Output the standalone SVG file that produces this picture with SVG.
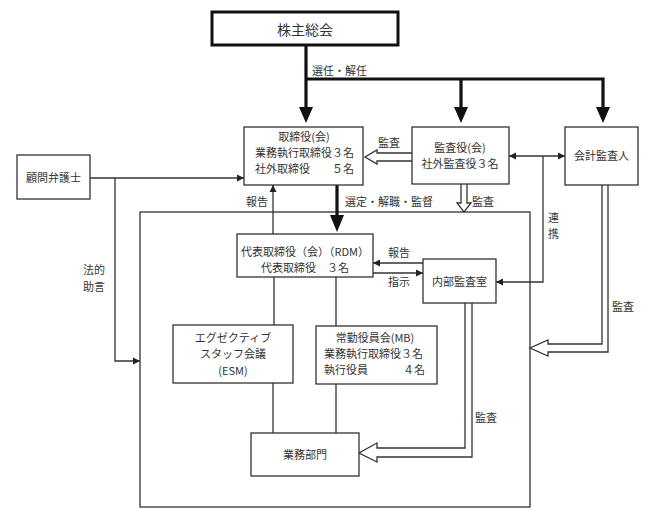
<svg xmlns="http://www.w3.org/2000/svg" width="656" height="522" viewBox="0 0 656 522">
<style>
text{font-family:"Noto Sans CJK JP","Noto Sans CJK SC",sans-serif;font-size:11px;fill:#333;}
.c{text-anchor:middle;}
.e{text-anchor:end;}
.box{fill:#fff;stroke:#333;stroke-width:1.3;}
.thin{fill:none;stroke:#333;stroke-width:1.3;}
.thick{fill:none;stroke:#111;stroke-width:3.2;}
.hollow{fill:#fff;stroke:#333;stroke-width:1.3;}
.head{fill:#111;stroke:none;}
</style>
<defs>
<marker id="ah" markerWidth="8" markerHeight="8" refX="7" refY="4" orient="auto" markerUnits="userSpaceOnUse">
<path d="M0,0.5 L7,4 L0,7.5 Z" fill="#222"/>
</marker>
<marker id="ahs" markerWidth="8" markerHeight="8" refX="0" refY="4" orient="auto" markerUnits="userSpaceOnUse">
<path d="M7,0.5 L0,4 L7,7.5 Z" fill="#222"/>
</marker>
</defs>
<rect x="0" y="0" width="656" height="522" fill="#fff"/>

<g id="frame">
<rect x="140" y="212" width="390" height="295" fill="none" stroke="#333" stroke-width="1.3"/>
</g>

<g id="connectors">
<path class="thick" d="M306,45 V108 M306,79 H603 V108 M461,79 V108"/>
<polygon class="head" points="299,107 313,107 306,123"/>
<polygon class="head" points="454,107 468,107 461,123"/>
<polygon class="head" points="596,107 610,107 603,123"/>
<path class="thick" d="M337,185 V216"/>
<polygon class="head" points="330,215 344,215 337,232"/>
<path class="hollow" d="M413,153 H377 V150 L365,157 L377,164 V161 H413"/>
<path class="hollow" d="M461,184 V203 H457 L464,212 L471,203 H467 V184"/>
<path class="hollow" d="M602,185 V344 H548 V340 L530,348 L548,356 V352 H608 V185"/>
<path class="hollow" d="M465,303 V448 H377 V443 L359,453 L377,462 V457 H472 V303"/>
<path class="thin" d="M90,178 H244" marker-end="url(#ah)"/>
<path class="thin" d="M115,178 V361 H140" marker-end="url(#ah)"/>
<path class="thin" d="M273,234 V185" marker-end="url(#ah)"/>
<path class="thin" d="M423,263 H373" marker-end="url(#ah)"/>
<path class="thin" d="M373,273 H423" marker-end="url(#ah)"/>
<path class="thin" d="M509,156 H565" marker-start="url(#ahs)" marker-end="url(#ah)"/>
<path class="thin" d="M543,156 V282 H496" marker-end="url(#ah)"/>
<path class="thin" d="M274,277 V325 M336,277 V326 M273,383 V433 M336,384 V433"/>
<text x="312" y="75">選任・解任</text>
<text x="378" y="147">監査</text>
<text x="472" y="206">監査</text>
<text x="345" y="206">選定・解職・監督</text>
<text x="246" y="206">報告</text>
<text x="83" y="274">法的</text>
<text x="83" y="291">助言</text>
<text x="548" y="222">連</text>
<text x="548" y="238">携</text>
<text x="612" y="311">監査</text>
<text x="388" y="257">報告</text>
<text x="388" y="286">指示</text>
<text x="475" y="422">監査</text>
</g>

<g id="shareholders">
<rect x="212" y="12" width="186" height="33" fill="#fff" stroke="#111" stroke-width="3"/>
<text class="c" x="305" y="35" style="font-size:14px">株主総会</text>
</g>

<g id="lawyer">
<rect class="box" x="17" y="155" width="73" height="44"/>
<text class="c" x="53.5" y="182">顧問弁護士</text>
</g>

<g id="board">
<rect class="box" x="244" y="127" width="119" height="58"/>
<text class="c" x="304" y="141">取締役(会)</text>
<text x="255" y="157">業務執行取締役３名</text>
<text x="255" y="173">社外取締役</text>
<text class="e" x="354" y="173">５名</text>
</g>

<g id="auditors">
<rect class="box" x="412" y="127" width="97" height="57"/>
<text class="c" x="460" y="152">監査役(会)</text>
<text class="c" x="460" y="168">社外監査役３名</text>
</g>

<g id="accounting-auditor">
<rect class="box" x="565" y="127" width="73" height="58"/>
<text class="c" x="601.5" y="160">会計監査人</text>
</g>

<g id="rdm">
<rect class="box" x="237" y="234" width="136" height="43"/>
<text class="c" x="305" y="256">代表取締役（会）（RDM）</text>
<text class="c" x="305" y="272">代表取締役　３名</text>
</g>

<g id="internal-audit">
<rect class="box" x="423" y="259" width="73" height="44"/>
<text class="c" x="459.5" y="286">内部監査室</text>
</g>

<g id="esm">
<rect class="box" x="173" y="325" width="120" height="58"/>
<text class="c" x="233" y="342">エグゼクティブ</text>
<text class="c" x="233" y="358">スタッフ会議</text>
<text class="c" x="233" y="375">(ESM)</text>
</g>

<g id="mb">
<rect class="box" x="316" y="326" width="121" height="58"/>
<text class="c" x="375" y="342">常勤役員会(MB)</text>
<text x="324" y="358">業務執行取締役３名</text>
<text x="324" y="374">執行役員</text>
<text class="e" x="425" y="374">４名</text>
</g>

<g id="business">
<rect class="box" x="251" y="433" width="108" height="43"/>
<text class="c" x="305" y="459">業務部門</text>
</g>
</svg>
